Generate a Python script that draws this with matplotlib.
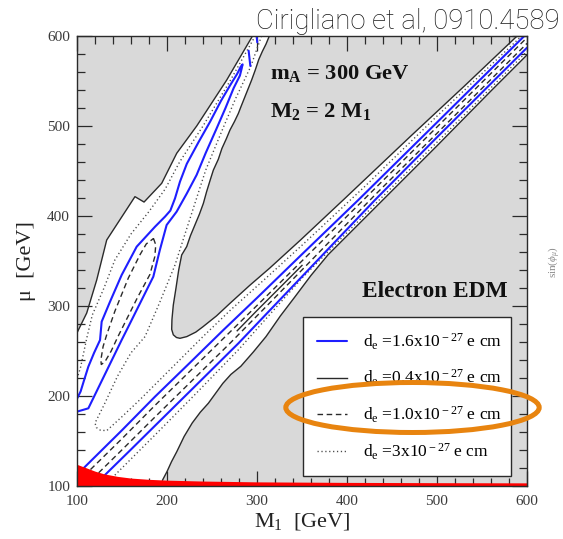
import numpy as np
import matplotlib
matplotlib.use("Agg")
import matplotlib.pyplot as plt
from matplotlib.patches import Ellipse
from matplotlib.lines import Line2D
from matplotlib.ticker import MultipleLocator

plt.rcParams['font.family'] = 'Liberation Serif'
plt.rcParams['mathtext.fontset'] = 'custom'
plt.rcParams['mathtext.rm'] = 'Liberation Serif'
plt.rcParams['mathtext.it'] = 'Liberation Serif:italic'
plt.rcParams['mathtext.bf'] = 'Liberation Serif:bold'

# ---------------- contour data: (M1, mu) in GeV ----------------
# boundary of the excluded (grey) region, upper left
ridge_left_m1 = [100, 101.5, 110.8, 121.9, 133.0, 164.4, 174.5, 194.1, 210.8, 233.0, 266.3, 295.0]
ridge_left_mu = [270, 273.3, 292.2, 328.9, 373.3, 421.5, 415.5, 436.3, 469.7, 500.0, 551.0, 600]

# boundary of the grey wedge between the two allowed bands
ridge_mid_m1 = [313.7, 310, 306, 302, 298, 294, 290, 286, 282, 279.3, 275, 270, 266, 261, 257,
                251.5, 248, 244, 240.4, 236, 231, 226, 221.9, 216.3, 213, 210, 207, 205.5,
                205.2, 207, 210.5, 214.4, 222, 232, 240, 255, 270, 292, 314, 348, 396, 470,
                530, 589]
ridge_mid_mu = [600, 591, 583, 574, 562, 551, 541, 531, 521, 514, 505, 495.6, 486, 475, 463,
                451, 440, 427, 414, 402, 390, 378, 366, 356.7, 340, 320, 301, 285,
                274, 268, 265, 264.1, 266, 271, 277, 289, 303, 323, 342, 373, 418, 488,
                544, 600]

# boundary of the grey region, lower right
ridge_low_m1 = [195, 200, 205, 210.8, 219, 228, 237, 246, 254, 262, 271, 282, 296, 310, 326,
                342, 360, 379, 410, 440, 500, 560, 600]
ridge_low_mu = [106.5, 116, 127, 138, 155, 170, 182, 192, 203, 214, 224, 233, 249, 266, 289,
                310, 334, 357, 388, 418, 478, 539, 579]

# d_e = 1.6e-27 contour, steep branch (closed loop running off the left edge)
blue_steep_m1 = [100, 104, 108, 112.6, 119, 125.6, 127.4, 136.7, 149.6, 166.3, 186.7, 197.8,
                 203.7, 208.9, 214.4, 222, 235, 248, 260, 270, 278, 282, 284,
                 283, 281, 274, 265, 255, 243, 232.9, 222, 210.7, 199.6, 192, 184.8, 155.2,
                 149.6, 130, 112.6, 103, 100]
blue_steep_mu = [197, 205, 218, 232.6, 248, 262.2, 282.6, 304.8, 334.4, 365.9, 388.1, 399.3,
                 406, 419.6, 438.1, 458, 482, 505, 528, 545, 558, 566, 568.5,
                 564, 556, 542, 520, 497, 470, 445.6, 425, 404.8, 390, 362, 332.6, 273.3,
                 262.2, 222, 186.3, 183.5, 182.6]
blue_islet1_m1 = [290.7, 292.6]
blue_islet1_mu = [583.7, 566.7]
blue_islet2_m1 = [299.6, 300.3]
blue_islet2_mu = [600, 593]

# d_e = 1.6e-27 contour, diagonal band
blue_band_hi_m1 = [107.5, 150, 186.7, 225, 262.6, 300, 350, 412.6, 500, 597]
blue_band_hi_mu = [120.0, 162, 199.3, 236.5, 273.3, 309, 357.5, 417.8, 504, 600]
blue_band_lo_m1 = [131, 160, 186.7, 230, 279.3, 330, 380, 431.1, 500, 600]
blue_band_lo_mu = [112.2, 140.6, 167, 209.7, 258.5, 311.7, 364.2, 417.8, 487.5, 587]

# d_e = 1.0e-27 contour
dash_band_hi_m1 = [115, 150, 186.7, 230, 270, 310, 350, 431, 500, 600]
dash_band_hi_mu = [118.3, 152.6, 189.6, 232, 271.1, 310.4, 350.1, 430.5, 498.9, 598.2]
dash_band_lo_m1 = [124, 150, 186.7, 230, 270, 310, 350, 431, 500, 600]
dash_band_lo_mu = [114.6, 140.2, 176.7, 219.2, 258.6, 299.2, 340.1, 423.3, 491.9, 591.8]
dash_loop_m1 = [185, 187.5, 186.5, 181, 167, 155, 145, 138, 131, 127, 126.5, 129, 133, 142,
                157, 170, 177, 185]
dash_loop_mu = [375, 368, 355, 335, 309, 285, 265, 250, 238, 235, 240, 255, 268, 294,
                331, 357, 369, 375]

# d_e = 0.4e-27 contour inside the diagonal band
black_core_m1 = [278, 300, 325, 350]
black_core_mu = [272.5, 295, 320, 345.1]

# d_e = 3e-27 contour
dot_v_m1 = [305, 293, 276, 262, 243, 231, 220, 208.9, 191.5, 175.6, 160, 145, 130, 120, 121.5,
            126, 133, 150, 170, 200, 240, 270, 310, 350, 420, 500, 594]
dot_v_mu = [600, 566, 530, 497, 451, 414, 380, 345.6, 303, 266, 248, 222, 190, 170, 165,
            162, 161.5, 177, 196, 226, 266, 295, 331, 367.5, 433, 511, 600]
dot_left_m1 = [100, 104, 111, 117, 130, 142, 160, 180, 198, 214, 240, 270, 298]
dot_left_mu = [219, 232, 265, 290, 320, 351, 380, 405, 430, 460, 500, 550, 600]
dot_low_m1 = [139, 190, 230, 280, 350, 436, 520, 600]
dot_low_mu = [109, 160, 200.5, 252, 331, 418, 502, 583]

# excluded by the chargino mass bound (red strip)
red_m1 = [100, 110, 120, 130, 145, 160, 180, 200, 240, 300, 400, 500, 600]
red_mu = [124, 120.3, 116.5, 113.5, 110.7, 108.8, 107.4, 106.5, 105.5, 104.6, 104, 103.7, 103.5]

legend_labels = [r'd$_{\rm e}$ =1.6x10$^{\rm -27}$ e cm',
                 r'd$_{\rm e}$ =0.4x10$^{\rm -27}$ e cm',
                 r'd$_{\rm e}$ =1.0x10$^{\rm -27}$ e cm',
                 r'd$_{\rm e}$ =3x10$^{\rm -27}$ e cm']

# ---------------- styles ----------------
BLUE = '#1e1eff'
DARK = '#2a2a2a'
GREY_FILL = '#d9d9d9'
solid_blue = dict(color=BLUE, lw=1.5, solid_capstyle='round')
solid_dark = dict(color=DARK, lw=1.0)
dashed = dict(color=DARK, lw=1.0, linestyle=(0, (4.0, 2.6)))
dotted = dict(color='#4a4a4a', lw=1.0, linestyle=(0, (0.9, 1.9)))

fig = plt.figure(figsize=(5.63, 5.39), dpi=100)
ax = fig.add_axes([77 / 563, 53 / 539, 450 / 563, 450 / 539])
ax.set_xlim(100, 600)
ax.set_ylim(100, 600)

# grey excluded regions
ax.fill(ridge_left_m1 + [100], ridge_left_mu + [600], color=GREY_FILL, lw=0, zorder=0.5)
ax.fill(ridge_mid_m1, ridge_mid_mu, color=GREY_FILL, lw=0, zorder=0.5)
ax.fill(ridge_low_m1 + [600, 195], ridge_low_mu + [100, 100], color=GREY_FILL, lw=0, zorder=0.5)

# 0.4e-27 contours (edges of grey regions and the core line)
for xs, ys in [(ridge_left_m1, ridge_left_mu), (ridge_mid_m1, ridge_mid_mu),
               (ridge_low_m1, ridge_low_mu), (black_core_m1, black_core_mu)]:
    ax.plot(xs, ys, zorder=1.6, **solid_dark)

# 3e-27 contours
for xs, ys in [(dot_v_m1, dot_v_mu), (dot_left_m1, dot_left_mu), (dot_low_m1, dot_low_mu)]:
    ax.plot(xs, ys, zorder=1.7, **dotted)

# 1.0e-27 contours
for xs, ys in [(dash_band_hi_m1, dash_band_hi_mu), (dash_band_lo_m1, dash_band_lo_mu),
               (dash_loop_m1, dash_loop_mu)]:
    ax.plot(xs, ys, zorder=1.8, **dashed)

# 1.6e-27 contours
for xs, ys in [(blue_steep_m1, blue_steep_mu), (blue_islet1_m1, blue_islet1_mu),
               (blue_islet2_m1, blue_islet2_mu), (blue_band_hi_m1, blue_band_hi_mu),
               (blue_band_lo_m1, blue_band_lo_mu)]:
    ax.plot(xs, ys, zorder=1.9, **solid_blue)

# red strip at the bottom
ax.fill_between(red_m1, 100, red_mu, color='#ff0000', lw=0, zorder=2.2)

# ---------------- axes styling ----------------
ax.xaxis.set_major_locator(MultipleLocator(100))
ax.yaxis.set_major_locator(MultipleLocator(100))
ax.xaxis.set_minor_locator(MultipleLocator(20))
ax.yaxis.set_minor_locator(MultipleLocator(20))
ax.tick_params(which='both', direction='in', top=True, right=True, color=DARK, width=0.9)
ax.tick_params(which='major', length=11)
ax.tick_params(which='minor', length=6)
ax.tick_params(axis='x', which='major', pad=6.3, labelsize=11, labelcolor='#3a3a3a')
ax.tick_params(axis='y', which='major', pad=5, labelsize=11, labelcolor='#3a3a3a')
for s in ax.spines.values():
    s.set_color(DARK)
    s.set_linewidth(1.0)
    s.set_zorder(3)

ax.set_xlabel(r'M$_1$  [GeV]', fontsize=16, color='#222222')
ax.set_ylabel('μ  [GeV]', fontsize=16, color='#222222')
ax.xaxis.set_label_coords(0.5, -0.055)
ax.yaxis.set_label_coords(-0.091, 0.5)

# ---------------- annotations ----------------
ax.text(0.429, 0.904, r'm$_{\mathbf{A}}$ = 300 GeV', transform=ax.transAxes,
        fontsize=16.2, fontweight='bold', va='baseline', ha='left', color='#111111')
ax.text(0.429, 0.8207, r'M$_{\mathbf{2}}$ = 2 M$_{\mathbf{1}}$', transform=ax.transAxes,
        fontsize=16.2, fontweight='bold', va='baseline', ha='left', color='#111111')
ax.text(0.958, 0.4206, 'Electron EDM', transform=ax.transAxes,
        fontsize=16.8, fontweight='bold', va='baseline', ha='right', color='#111111')

handles = [Line2D([], [], **solid_blue), Line2D([], [], **solid_dark),
           Line2D([], [], **dashed), Line2D([], [], **dotted)]
leg = ax.legend(handles, legend_labels, loc='upper left',
                bbox_to_anchor=(0.502, 0.0289, 0.462, 0.3467), mode='expand',
                borderaxespad=0, frameon=True, fancybox=False, framealpha=1,
                edgecolor=DARK, prop={'family': 'Liberation Serif', 'size': 12.5},
                handlelength=1.73, handletextpad=0.92, labelspacing=0.95, borderpad=0.82)
leg.get_frame().set_linewidth(1.0)
leg.set_zorder(5)

fig.text(560 / 563, 1 - 28.7 / 539, 'Cirigliano et al, 0910.4589', ha='right',
         va='baseline', fontsize=19.8, family='Roboto', fontweight='light', color='#1a1a1a')
fig.text(554 / 563, 1 - 262 / 539, r'sin($\phi_\mu$)', rotation=90, ha='center', va='center',
         fontsize=8, color='#8a8a8a')

ring = Ellipse((412.5 / 563, 1 - 407.5 / 539), 253.4 / 563, 50 / 539,
               transform=fig.transFigure, fill=False, edgecolor='#E8840F', lw=3.6, zorder=10)
fig.add_artist(ring)

fig.savefig('out.png', dpi=100)
